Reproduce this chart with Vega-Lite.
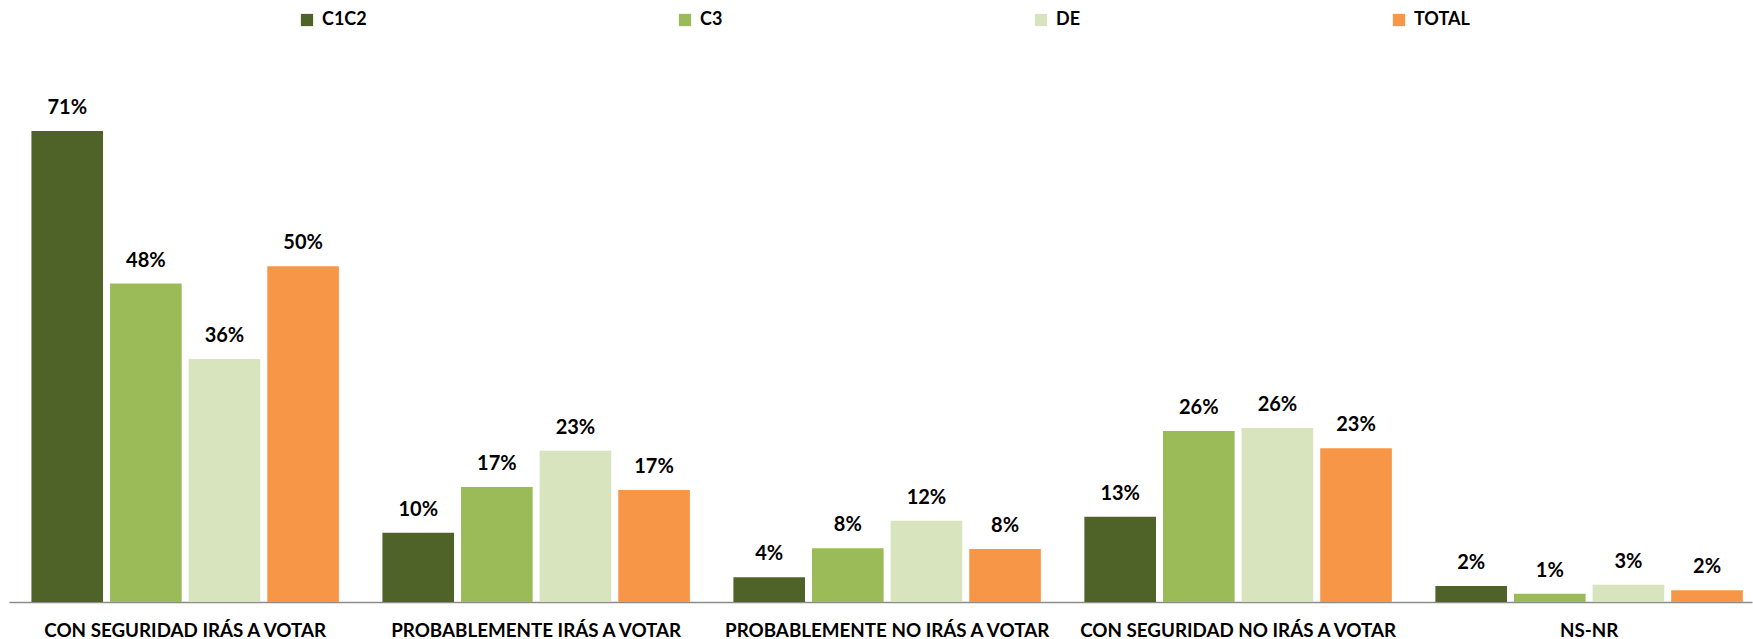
{
  "$schema": "https://vega.github.io/schema/vega-lite/v6.json",
  "autosize": {"type": "none"},
  "width": 1743,
  "height": 533,
  "padding": {"left": 9, "top": 69, "right": 1, "bottom": 37},
  "background": "white",
  "data": {
    "values": [
      {"cat": "CON SEGURIDAD IRÁS A VOTAR", "grupo": "C1C2", "v": 0.707},
      {"cat": "CON SEGURIDAD IRÁS A VOTAR", "grupo": "C3", "v": 0.478},
      {"cat": "CON SEGURIDAD IRÁS A VOTAR", "grupo": "DE", "v": 0.3646},
      {"cat": "CON SEGURIDAD IRÁS A VOTAR", "grupo": "TOTAL", "v": 0.504},
      {"cat": "PROBABLEMENTE IRÁS A VOTAR", "grupo": "C1C2", "v": 0.104},
      {"cat": "PROBABLEMENTE IRÁS A VOTAR", "grupo": "C3", "v": 0.1725},
      {"cat": "PROBABLEMENTE IRÁS A VOTAR", "grupo": "DE", "v": 0.227},
      {"cat": "PROBABLEMENTE IRÁS A VOTAR", "grupo": "TOTAL", "v": 0.168},
      {"cat": "PROBABLEMENTE NO IRÁS A VOTAR", "grupo": "C1C2", "v": 0.037},
      {"cat": "PROBABLEMENTE NO IRÁS A VOTAR", "grupo": "C3", "v": 0.0806},
      {"cat": "PROBABLEMENTE NO IRÁS A VOTAR", "grupo": "DE", "v": 0.122},
      {"cat": "PROBABLEMENTE NO IRÁS A VOTAR", "grupo": "TOTAL", "v": 0.0795},
      {"cat": "CON SEGURIDAD NO IRÁS A VOTAR", "grupo": "C1C2", "v": 0.128},
      {"cat": "CON SEGURIDAD NO IRÁS A VOTAR", "grupo": "C3", "v": 0.2566},
      {"cat": "CON SEGURIDAD NO IRÁS A VOTAR", "grupo": "DE", "v": 0.261},
      {"cat": "CON SEGURIDAD NO IRÁS A VOTAR", "grupo": "TOTAL", "v": 0.2306},
      {"cat": "NS-NR", "grupo": "C1C2", "v": 0.024},
      {"cat": "NS-NR", "grupo": "C3", "v": 0.0125},
      {"cat": "NS-NR", "grupo": "DE", "v": 0.026},
      {"cat": "NS-NR", "grupo": "TOTAL", "v": 0.0175}
    ]
  },
  "encoding": {
    "x": {
      "field": "cat",
      "type": "nominal",
      "sort": ["CON SEGURIDAD IRÁS A VOTAR", "PROBABLEMENTE IRÁS A VOTAR", "PROBABLEMENTE NO IRÁS A VOTAR", "CON SEGURIDAD NO IRÁS A VOTAR", "NS-NR"],
      "scale": {"paddingInner": 0.124, "paddingOuter": 0.045, "align": 0.71},
      "axis": {
        "title": null,
        "labelAngle": 0,
        "ticks": false,
        "tickSize": 0,
        "labelPadding": 28,
        "labelBaseline": "middle",
        "labelFont": "Lato",
        "labelFontWeight": "bold",
        "labelFontSize": 18.8,
        "labelColor": "#000000",
        "labelLimit": 400,
        "domainColor": "#8c8c8c",
        "domainWidth": 1.5,
        "grid": false
      }
    },
    "xOffset": {
      "field": "grupo",
      "type": "nominal",
      "sort": ["C1C2", "C3", "DE", "TOTAL"],
      "scale": {"paddingInner": 0.089, "paddingOuter": 0}
    },
    "y": {
      "field": "v",
      "type": "quantitative",
      "scale": {"domain": [0, 0.8], "nice": false, "zero": true},
      "axis": null
    }
  },
  "layer": [
    {
      "mark": {"type": "bar"},
      "encoding": {
        "color": {
          "field": "grupo",
          "type": "nominal",
          "sort": ["C1C2", "C3", "DE", "TOTAL"],
          "scale": {"domain": ["C1C2", "C3", "DE", "TOTAL"], "range": ["#4F6228", "#9BBB59", "#D7E4BD", "#F79646"]},
          "legend": {
            "title": null,
            "orient": "none",
            "legendX": 289,
            "legendY": -58,
            "direction": "horizontal",
            "columns": 4,
            "symbolType": "square",
            "symbolSize": 150,
            "symbolStrokeWidth": 0,
            "labelFont": "Lato",
            "labelFontWeight": "bold",
            "labelFontSize": 18,
            "labelColor": "#000000",
            "labelOffset": 6,
            "columnPadding": 309,
            "padding": 0
          }
        }
      }
    },
    {
      "mark": {"type": "text", "baseline": "middle", "dy": -23, "font": "Lato", "fontWeight": "bold", "fontSize": 20, "color": "#000000"},
      "encoding": {
        "text": {"field": "v", "type": "quantitative", "format": ".0%"}
      }
    }
  ],
  "config": {"view": {"stroke": null}}
}
